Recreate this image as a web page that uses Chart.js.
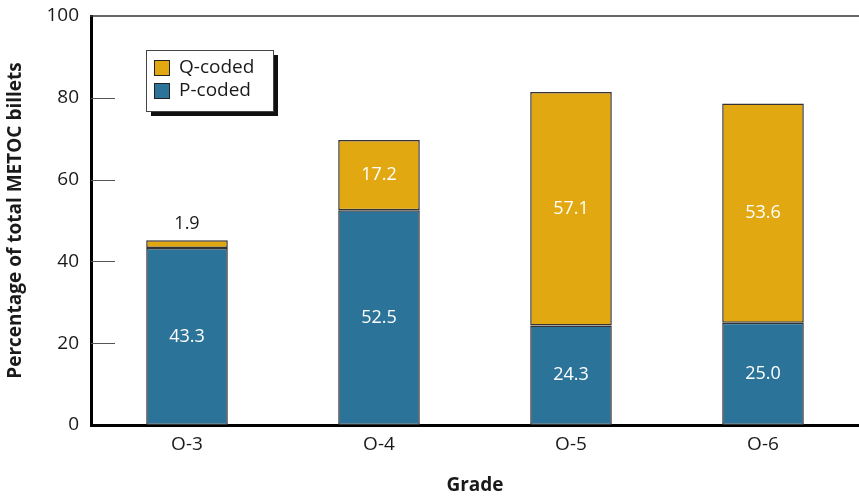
<!DOCTYPE html>
<html>
<head>
<meta charset="utf-8">
<script src="https://cdn.jsdelivr.net/npm/chart.js@4"></script>
<style>
  html, body { margin: 0; padding: 0; background: #fff; }
  #wrap { width: 859px; height: 501px; }
</style>
</head>
<body>
<div id="wrap"><canvas id="grafico"></canvas></div>
<script>
// Dados do gráfico
const grades = ['O-3', 'O-4', 'O-5', 'O-6'];
const pCoded = [43.3, 52.5, 24.3, 25.0];
const qCoded = [1.9, 17.2, 57.1, 53.6];
const yTicks = [0, 20, 40, 60, 80, 100];

const azul = '#2B7399';
const dourado = '#E1A812';
const fonte = '"Open Sans", "Noto Sans", sans-serif';

// Rótulos dos valores dentro (ou acima) das barras
const rotulosPlugin = {
  id: 'rotulos',
  afterDatasetsDraw(chart) {
    const ctx = chart.ctx;
    ctx.save();
    ctx.font = '18px ' + fonte;
    ctx.textAlign = 'center';
    ctx.textBaseline = 'middle';
    chart.data.datasets.forEach((ds, di) => {
      const meta = chart.getDatasetMeta(di);
      meta.data.forEach((bar, i) => {
        const v = ds.data[i];
        const h = Math.abs(bar.base - bar.y);
        const txt = v.toFixed(1);
        if (h < 25) {
          ctx.fillStyle = '#1a1a1a';
          ctx.fillText(txt, bar.x, bar.y - 16);
        } else {
          ctx.fillStyle = '#fff';
          ctx.fillText(txt, bar.x, (bar.y + bar.base) / 2);
        }
      });
    });
    ctx.restore();
  }
};

// Linha superior, marcas internas do eixo Y e legenda com sombra
const molduraPlugin = {
  id: 'moldura',
  afterDraw(chart) {
    const ctx = chart.ctx;
    const area = chart.chartArea;
    const y = chart.scales.y;
    ctx.save();
    ctx.strokeStyle = '#333';
    ctx.lineWidth = 1.5;
    ctx.beginPath();
    ctx.moveTo(area.left - 1, area.top);
    ctx.lineTo(area.right, area.top);
    ctx.stroke();

    ctx.strokeStyle = '#555';
    ctx.lineWidth = 1;
    yTicks.forEach(t => {
      if (t === 0 || t === 100) return;
      const py = Math.round(y.getPixelForValue(t)) + 0.5;
      ctx.beginPath();
      ctx.moveTo(area.left, py);
      ctx.lineTo(area.left + 24, py);
      ctx.stroke();
    });

    // legenda
    const lx = 146, ly = 50, lw = 127, lh = 61;
    ctx.fillStyle = '#111';
    ctx.fillRect(lx + 5, ly + 5, lw, lh);
    ctx.fillStyle = '#fff';
    ctx.fillRect(lx, ly, lw, lh);
    ctx.strokeStyle = '#444';
    ctx.lineWidth = 1;
    ctx.strokeRect(lx + 0.5, ly + 0.5, lw, lh);

    const itens = [chart.data.datasets[1], chart.data.datasets[0]];
    ctx.font = '19px ' + fonte;
    ctx.textBaseline = 'middle';
    ctx.textAlign = 'left';
    itens.forEach((ds, i) => {
      const iy = ly + 10 + i * 23;
      ctx.fillStyle = ds.backgroundColor;
      ctx.fillRect(lx + 8, iy, 15, 15);
      ctx.strokeStyle = '#222';
      ctx.strokeRect(lx + 8.5, iy + 0.5, 15, 15);
      ctx.fillStyle = '#1a1a1a';
      ctx.fillText(ds.label, lx + 33, iy + 8);
    });
    ctx.restore();
  }
};

const ctx = document.getElementById('grafico').getContext('2d');
new Chart(ctx, {
  type: 'bar',
  data: {
    labels: grades,
    datasets: [
      {
        label: 'P-coded',
        data: pCoded,
        backgroundColor: azul,
        borderColor: '#333',
        borderWidth: 1.5,
        borderSkipped: false
      },
      {
        label: 'Q-coded',
        data: qCoded,
        backgroundColor: dourado,
        borderColor: '#333',
        borderWidth: 1.5,
        borderSkipped: false
      }
    ]
  },
  options: {
    responsive: true,
    maintainAspectRatio: false,
    animation: false,
    layout: { padding: { top: 16, right: 0, left: 0, bottom: 0 } },
    datasets: { bar: { barPercentage: 0.425, categoryPercentage: 1 } },
    plugins: {
      legend: { display: false },
      tooltip: { enabled: false }
    },
    scales: {
      x: {
        stacked: true,
        grid: { display: false, drawTicks: false },
        border: { display: true, color: '#000', width: 3 },
        ticks: { color: '#1a1a1a', padding: 8, font: { family: fonte, size: 19 } },
        title: {
          display: true,
          text: 'Grade',
          color: '#1a1a1a',
          padding: { top: 16 },
          font: { family: fonte, size: 19, weight: 'bold' }
        },
        afterFit(scale) {
          scale.height = 76;
          scale.paddingLeft = 0;
          scale.paddingRight = 0;
        }
      },
      y: {
        stacked: true,
        min: 0,
        max: 100,
        afterBuildTicks(scale) { scale.ticks = yTicks.map(v => ({ value: v })); },
        grid: { display: false, drawTicks: false },
        border: { display: true, color: '#000', width: 3 },
        ticks: { color: '#1a1a1a', padding: 12, font: { family: fonte, size: 19 } },
        title: {
          display: true,
          text: 'Percentage of total METOC billets',
          color: '#1a1a1a',
          padding: { bottom: 0 },
          font: { family: fonte, size: 19, weight: 'bold' }
        },
        afterFit(scale) {
          scale.width = 91;
          scale.paddingTop = 0;
          scale.paddingBottom = 0;
        }
      }
    }
  },
  plugins: [rotulosPlugin, molduraPlugin]
});
</script>
</body>
</html>
